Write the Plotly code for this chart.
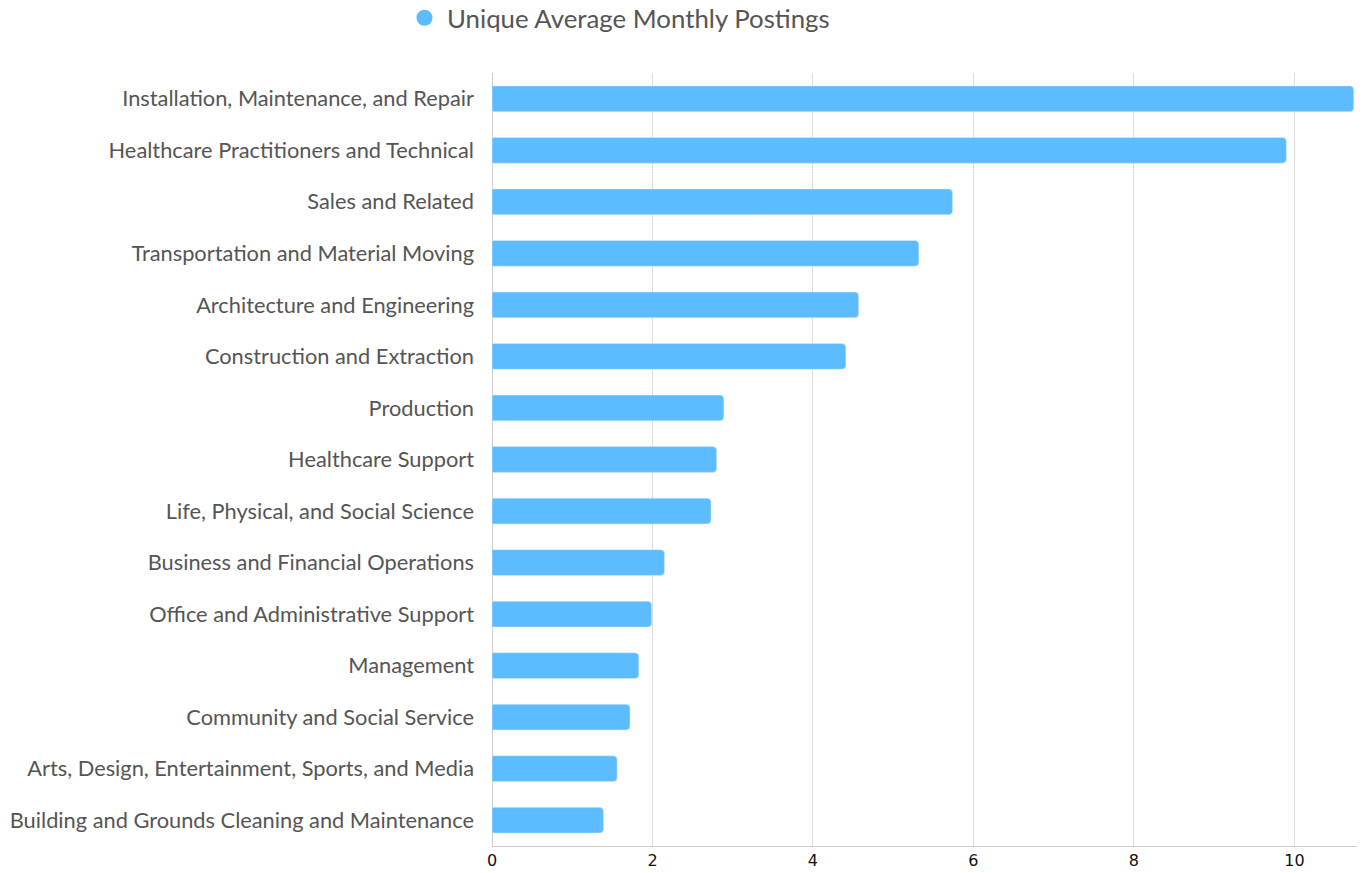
import plotly.graph_objects as go

categories = [
    "Installation, Maintenance, and Repair",
    "Healthcare Practitioners and Technical",
    "Sales and Related",
    "Transportation and Material Moving",
    "Architecture and Engineering",
    "Construction and Extraction",
    "Production",
    "Healthcare Support",
    "Life, Physical, and Social Science",
    "Business and Financial Operations",
    "Office and Administrative Support",
    "Management",
    "Community and Social Service",
    "Arts, Design, Entertainment, Sports, and Media",
    "Building and Grounds Cleaning and Maintenance",
]
values = [10.74, 9.90, 5.74, 5.32, 4.57, 4.41, 2.89, 2.80, 2.73, 2.15, 1.99, 1.83, 1.72, 1.56, 1.39]
series_name = "Unique Average Monthly Postings"
tick_vals = [0, 2, 4, 6, 8, 10]
bar_color = "#5cbcff"

fig = go.Figure()
fig.add_trace(go.Bar(
    x=values,
    y=categories,
    orientation="h",
    name=series_name,
    marker=dict(color=bar_color, cornerradius=4),
    showlegend=False,
))
# legend entry with a circular marker
fig.add_trace(go.Scatter(
    x=[None], y=[None],
    mode="markers",
    name=series_name,
    marker=dict(color=bar_color, size=20, symbol="circle"),
    showlegend=True,
))

fig.update_layout(
    width=1369,
    height=873,
    paper_bgcolor="white",
    plot_bgcolor="white",
    margin=dict(l=492, r=12, t=73, b=27, autoexpand=False),
    bargap=0.5,
    font=dict(family="Lato", color="#555555", size=21.8),
    legend=dict(
        orientation="h",
        x=402 / 1369, xref="container", xanchor="left",
        y=(873 - 18) / 873, yref="container", yanchor="middle",
        font=dict(family="Lato", size=25.8, color="#555555"),
        itemsizing="trace",
        itemwidth=35,
        bgcolor="rgba(0,0,0,0)",
    ),
    xaxis=dict(
        range=[0, 10.78],
        tickvals=tick_vals,
        showgrid=True,
        gridcolor="#dddddd",
        gridwidth=1,
        zeroline=True,
        zerolinecolor="#cccccc",
        zerolinewidth=1,
        showline=True,
        linecolor="#cccccc",
        linewidth=1,
        ticks="",
        tickfont=dict(family="DejaVu Sans", size=16, color="#111111"),
    ),
    yaxis=dict(
        autorange="reversed",
        showgrid=False,
        ticks="",
        ticklabelstandoff=17,
        tickfont=dict(family="Lato", size=21.8, color="#555555"),
    ),
)

fig.write_html(
    "out.html",
    config={"displayModeBar": False},
    post_script="document.body.style.margin='0';document.body.style.overflow='hidden';",
)
